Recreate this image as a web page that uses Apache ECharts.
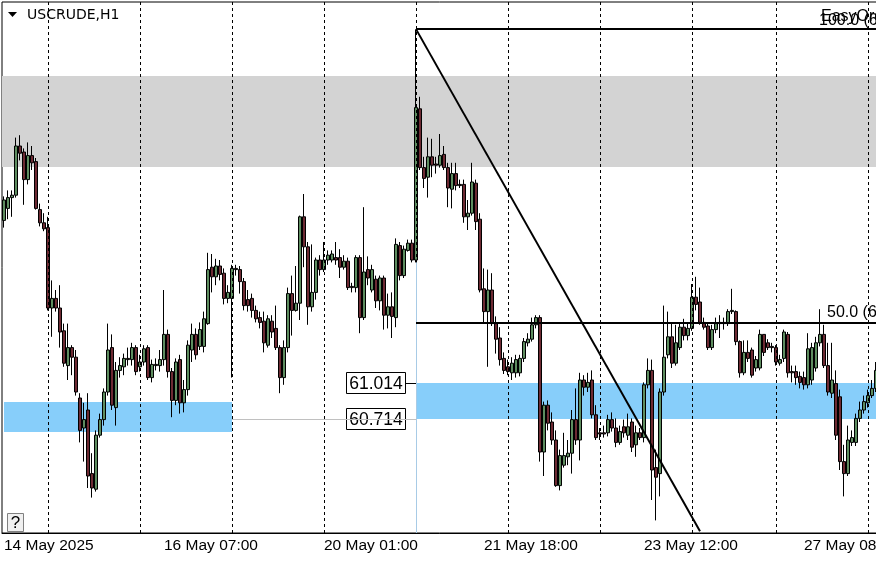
<!DOCTYPE html>
<html>
<head>
<meta charset="utf-8">
<script src="https://cdn.jsdelivr.net/npm/echarts@6/dist/echarts.min.js"></script>
<style>
html,body{margin:0;padding:0;background:#fff;}
#chart{width:876px;height:562px;}
</style>
</head>
<body>
<div id="chart"></div>
<script>
// ---- data (USCRUDE, H1) ----
const open = [62.37,62.47,62.56,62.58,62.99,62.94,62.71,62.91,62.86,62.46,
62.35,62.31,61.64,61.72,61.64,61.45,61.16,61.31,61.23,60.89,
60.64,60.79,60.26,60.13,60.58,60.71,60.94,61.31,60.81,61.12,
61.15,61.22,61.21,61.31,61.15,61.19,61.31,61.06,61.17,61.16,
61.21,61.42,61.11,60.87,61.21,60.85,60.96,61.29,61.42,61.32,
61.32,61.51,61.98,61.90,61.99,61.93,61.72,61.72,61.97,61.96,
61.86,61.71,61.72,61.62,61.56,61.53,61.33,61.53,61.47,61.31,
61.06,61.31,61.76,61.62,61.68,62.40,62.15,61.65,61.77,62.04,
61.96,62.04,62.04,62.06,62.06,61.98,62.03,61.82,61.81,62.06,
61.56,61.96,61.79,61.88,61.70,61.89,61.58,61.65,61.56,62.16,
61.91,62.12,62.18,62.04,63.30,62.81,62.73,62.90,62.84,62.83,
62.92,62.81,62.63,62.76,62.67,62.67,62.40,62.43,62.68,62.38,
61.80,61.61,61.79,61.51,61.39,61.22,61.15,61.10,61.10,61.10,
61.22,61.35,61.38,61.50,61.56,60.44,60.83,60.69,60.54,60.16,
60.33,60.40,60.43,60.71,60.54,61.04,60.98,61.04,60.75,60.60,
60.60,60.60,60.71,60.64,60.52,60.65,60.58,60.69,60.50,60.60,
60.56,61.00,61.12,60.31,60.26,60.94,61.25,61.40,61.18,61.31,
61.48,61.41,61.47,61.73,61.69,61.52,61.49,61.31,61.46,61.52,
61.52,61.51,61.61,61.61,61.36,61.10,61.27,61.29,61.14,61.14,
61.42,61.35,61.32,61.31,61.18,61.22,61.42,61.11,61.11,61.07,
61.06,61.00,61.04,61.14,61.35,61.42,61.16,60.93,61.01,60.90,
60.36,60.26,60.52,60.52,60.72,60.79,60.85,60.91,60.97];
const close = [62.54,62.56,62.58,62.99,62.93,62.71,62.91,62.85,62.47,62.35,
62.30,61.64,61.72,61.64,61.44,61.18,61.31,61.23,60.94,60.62,
60.71,60.24,60.14,60.58,60.71,60.94,61.29,60.83,61.12,61.16,
61.22,61.21,61.31,61.11,61.19,61.30,61.06,61.17,61.16,61.21,
61.42,61.11,60.87,61.19,60.85,60.96,61.33,61.42,61.25,61.46,
61.55,61.96,61.90,61.99,61.92,61.72,61.77,61.97,61.96,61.86,
61.66,61.66,61.62,61.55,61.52,61.35,61.55,61.44,61.31,61.06,
61.31,61.76,61.62,61.68,62.40,62.15,61.65,61.77,62.04,61.96,
62.04,62.08,62.09,62.04,61.98,62.03,61.81,61.81,62.06,61.56,
61.94,61.89,61.96,61.70,61.89,61.58,61.65,61.57,62.17,61.91,
62.13,62.18,62.04,63.31,62.81,62.72,62.90,62.83,62.83,62.91,
62.81,62.64,62.76,62.66,62.66,62.40,62.43,62.69,62.36,61.79,
61.61,61.79,61.51,61.38,61.21,61.12,61.11,61.18,61.21,61.22,
61.36,61.38,61.50,61.56,60.44,60.83,60.68,60.54,60.16,60.41,
60.41,60.43,60.71,60.54,61.04,60.98,61.02,60.75,60.56,60.59,
60.59,60.71,60.64,60.52,60.61,60.60,60.65,60.48,60.60,60.56,
61.00,61.12,60.29,60.23,60.94,61.23,61.40,61.18,61.35,61.48,
61.41,61.47,61.73,61.67,61.52,61.48,61.31,61.46,61.51,61.51,
61.51,61.61,61.62,61.36,61.10,61.27,61.22,61.08,61.21,61.42,
61.27,61.31,61.31,61.19,61.21,61.44,61.10,61.10,61.06,61.02,
61.00,61.30,61.31,61.35,61.42,61.16,60.94,61.04,60.58,60.36,
60.26,60.54,60.56,60.72,60.79,60.86,60.91,60.97,61.12];
const high = [62.57,62.62,62.62,63.06,63.08,62.97,63.02,62.99,62.89,62.51,
62.43,62.40,61.87,61.79,61.83,61.51,61.51,61.33,61.29,60.93,
60.85,60.93,60.43,60.62,60.76,60.97,61.51,61.42,61.19,61.23,
61.26,61.31,61.35,61.33,61.25,61.33,61.33,61.21,61.22,61.29,
61.79,61.46,61.14,61.22,61.25,61.04,61.37,61.51,61.47,61.52,
61.61,62.10,62.09,62.05,62.04,61.97,61.83,62.00,62.00,61.99,
61.89,61.79,61.76,61.66,61.61,61.61,61.58,61.58,61.66,61.33,
61.37,61.81,61.91,61.99,62.41,62.59,62.19,62.17,62.06,62.08,
62.19,62.12,62.12,62.19,62.13,62.08,62.06,61.85,62.08,62.08,
62.48,62.07,62.00,61.91,61.91,61.91,61.76,61.77,62.22,62.19,
62.16,62.21,62.21,63.96,63.40,62.90,63.06,63.05,62.90,63.09,
62.99,62.85,62.85,62.85,62.71,62.71,62.54,62.85,62.71,62.43,
61.97,61.96,61.93,61.57,61.48,61.27,61.21,61.23,61.25,61.25,
61.39,61.43,61.56,61.58,61.58,60.86,60.87,60.77,60.62,60.46,
60.60,60.54,60.79,60.97,61.10,61.08,61.10,61.12,60.83,60.64,
60.66,60.75,60.77,60.72,60.66,60.71,60.76,60.72,60.66,60.64,
61.02,61.22,61.21,60.46,60.97,61.66,61.61,61.51,61.50,61.52,
61.55,61.51,61.84,61.90,61.81,61.56,61.52,61.50,61.56,61.58,
61.56,61.63,61.80,61.62,61.37,61.37,61.37,61.31,61.24,61.46,
61.42,61.38,61.35,61.33,61.25,61.46,61.44,61.16,61.16,61.11,
61.11,61.43,61.35,61.40,61.63,61.50,61.35,61.35,61.12,60.96,
60.50,60.66,60.62,60.76,60.86,60.91,60.96,61.04,61.19];
const low = [62.31,62.38,62.40,62.56,62.87,62.50,62.67,62.79,62.46,62.32,
62.28,61.62,61.40,61.61,61.31,61.15,61.04,61.08,60.91,60.52,
60.36,60.14,60.06,60.11,60.56,60.66,60.91,60.79,60.66,61.06,
61.08,61.16,61.16,61.08,61.11,61.16,61.04,61.02,61.12,61.11,
61.16,61.06,60.73,60.83,60.76,60.77,60.91,61.19,61.21,61.29,
61.27,61.50,61.77,61.83,61.87,61.67,61.68,61.06,61.91,61.76,
61.62,61.61,61.56,61.52,61.47,61.27,61.31,61.39,61.29,60.93,
61.00,61.27,61.41,61.61,61.54,61.98,61.50,61.61,61.71,61.91,
61.94,62.00,62.02,62.00,61.89,61.96,61.79,61.77,61.77,61.43,
61.54,61.83,61.77,61.64,61.62,61.46,61.47,61.39,61.48,61.87,
61.89,62.11,62.02,62.02,62.79,62.64,62.56,62.73,62.76,62.81,
62.79,62.48,62.47,62.62,62.64,62.35,62.29,62.41,62.29,61.77,
61.52,61.15,61.49,61.26,61.16,61.09,61.08,61.04,61.06,61.07,
61.19,61.32,61.36,61.47,60.36,60.24,60.62,60.50,60.15,60.12,
60.31,60.33,60.26,60.50,60.37,60.91,60.94,60.72,60.54,60.54,
60.56,60.57,60.61,60.48,60.50,60.56,60.54,60.44,60.40,60.54,
60.52,60.97,60.04,59.87,60.07,60.91,61.22,61.14,61.16,61.29,
61.37,61.37,61.45,61.62,61.50,61.46,61.29,61.29,61.43,61.39,
61.46,61.49,61.59,61.33,61.06,61.08,61.19,61.06,61.11,61.12,
61.24,61.29,61.27,61.16,61.16,61.19,61.06,61.02,61.00,60.97,
60.96,60.97,61.00,61.11,61.32,61.14,60.91,60.89,60.54,60.29,
60.07,60.24,60.49,60.49,60.69,60.76,60.81,60.89,60.94];

const tickIndex = [0, 40, 80, 120, 160, 200];
const tickLabels = ['14 May 2025', '16 May 07:00', '20 May 01:00', '21 May 18:00', '23 May 12:00', '27 May 08:00'];
const daySeparators = [11, 34, 57, 80, 103, 126, 149, 172, 193, 216];

// fibonacci / objects (prices)
const fibStartIdx = 103, fibHigh = 63.964, fibMid = 61.52;
const trendEndIdx = 174, trendEndPrice = 59.78;
const supplyZone = [63.573, 62.814];
const demandZoneLeft = {from: 0, to: 57, top: 60.856, bottom: 60.606};
const demandZoneRight = {from: 103, top: 61.014, bottom: 60.714};
const priceLabels = [61.014, 60.714];

const categories = open.map((_, i) => 'bar' + i);
const lastIdx = open.length - 1;
const yMin = 59.765, yMax = 64.19;
const FONT = 'DejaVu Sans';
const FONT2 = 'Liberation Sans';

const chart = echarts.init(document.getElementById('chart'), null, {renderer: 'canvas'});
const tickFn = (idx) => tickIndex.indexOf(idx) >= 0;

chart.setOption({
  animation: false,
  backgroundColor: '#ffffff',
  grid: {left: 2, top: 2, width: 876, bottom: 29, show: true, borderColor: '#000', borderWidth: 1,
         backgroundColor: 'transparent', containLabel: false, outerBoundsMode: 'none'},
  xAxis: {
    type: 'category', data: categories, boundaryGap: true,
    axisLine: {lineStyle: {color: '#000', width: 1}},
    axisTick: {alignWithLabel: true, interval: tickFn, length: 4, lineStyle: {color: '#000'}},
    axisLabel: {
      interval: tickFn, align: 'left', margin: 5, color: '#000', fontFamily: FONT2, fontSize: 15.5,
      hideOverlap: false,
      formatter: (v, idx) => { const k = tickIndex.indexOf(idx); return k >= 0 ? tickLabels[k] : ''; }
    },
    splitLine: {show: false}
  },
  yAxis: {type: 'value', min: yMin, max: yMax, show: false, splitLine: {show: false}},
  series: [
    {
      type: 'line', data: [], z: 1, silent: true,
      markArea: {
        silent: true,
        data: [
          [{yAxis: supplyZone[0], itemStyle: {color: '#d3d3d3'}}, {yAxis: supplyZone[1]}],
          [{xAxis: demandZoneLeft.from, yAxis: demandZoneLeft.top, itemStyle: {color: '#87cefa'}}, {xAxis: demandZoneLeft.to, yAxis: demandZoneLeft.bottom}],
          [{xAxis: demandZoneRight.from, yAxis: demandZoneRight.top, itemStyle: {color: '#87cefa'}}, {xAxis: lastIdx, yAxis: demandZoneRight.bottom}]
        ]
      }
    },
    {
      type: 'line', data: [], z: 2, silent: true,
      markLine: {
        silent: true, symbol: ['none', 'none'], label: {show: false},
        data: [
          ...daySeparators.map(i => ({xAxis: i, lineStyle: {color: '#000', width: 1, type: [3, 3]}})),
          [{coord: [demandZoneLeft.to, priceLabels[1]], lineStyle: {color: '#c0c0c0', width: 1, type: 'solid'}}, {coord: [fibStartIdx, priceLabels[1]]}],
          [{coord: [fibStartIdx, yMin], lineStyle: {color: '#a8cbe6', width: 1, type: 'solid'}}, {coord: [fibStartIdx, low[fibStartIdx]]}]
        ]
      }
    },
    {
      type: 'candlestick', z: 3, barWidth: 3,
      data: open.map((o, i) => [o, close[i], low[i], high[i]]),
      itemStyle: {color: '#5e8d60', color0: '#6d2a33', borderColor: '#000', borderColor0: '#000', borderWidth: 1}
    },
    {
      type: 'line', data: [], z: 4, silent: true,
      markLine: {
        silent: true, symbol: ['none', 'none'], label: {show: false},
        data: [
          [{coord: [fibStartIdx, fibHigh], lineStyle: {color: '#000', width: 2, type: 'solid'}}, {coord: [lastIdx, fibHigh]}],
          [{coord: [fibStartIdx, fibMid], lineStyle: {color: '#000', width: 2, type: 'solid'}}, {coord: [lastIdx, fibMid]}],
          [{coord: [fibStartIdx, fibHigh], lineStyle: {color: '#000', width: 2, type: 'solid'}}, {coord: [trendEndIdx, trendEndPrice]}],
          [{coord: [fibStartIdx, fibHigh], lineStyle: {color: '#000', width: 1, type: 'solid'}}, {coord: [fibStartIdx, high[fibStartIdx] - 0.01]}]
        ]
      }
    }
  ]
});

// overlay texts positioned from the data scales
const toPx = (idx, price) => chart.convertToPixel({xAxisIndex: 0, yAxisIndex: 0}, [idx, price]);
const g = [];
g.push({type: 'polygon', shape: {points: [[8, 12], [17, 12], [12.5, 17]]}, style: {fill: '#000'}, silent: true});
g.push({type: 'text', left: 27, top: 8, style: {text: 'USCRUDE,H1', fontFamily: FONT, fontSize: 14, fill: '#000'}, silent: true});
priceLabels.forEach(p => {
  const [px, py] = toPx(fibStartIdx, p);
  g.push({type: 'line', shape: {x1: px - 10, y1: Math.round(py) + 0.5, x2: px, y2: Math.round(py) + 0.5}, style: {stroke: '#000', lineWidth: 1}, silent: true});
  g.push({type: 'rect', shape: {x: px - 69.5, y: Math.round(py) - 10.5, width: 59, height: 21}, style: {fill: '#fff', stroke: '#000', lineWidth: 1}, silent: true});
  g.push({type: 'text', x: px - 40, y: Math.round(py) + 1.5, style: {text: p.toFixed(3), fontFamily: FONT2, fontSize: 17.5, fill: '#000', align: 'center', verticalAlign: 'middle'}, silent: true});
});
const [fx1, fy1] = toPx(lastIdx, fibHigh);
const [fx2, fy2] = toPx(lastIdx, fibMid);
g.push({type: 'text', x: 821, y: fy1 - 21, style: {text: 'EasyOrders', fontFamily: FONT2, fontSize: 16, fill: '#000'}, silent: true});
g.push({type: 'text', x: 819, y: fy1 - 17, style: {text: '100.0 (' + fibHigh.toFixed(3) + ')', fontFamily: FONT2, fontSize: 16, fill: '#000'}, silent: true});
g.push({type: 'text', x: 827, y: fy2 - 18, style: {text: '50.0 (' + fibMid.toFixed(3) + ')', fontFamily: FONT2, fontSize: 16, fill: '#000'}, silent: true});
g.push({type: 'rect', shape: {x: 7.5, y: 513.5, width: 16, height: 18}, style: {fill: '#f0f0f0', stroke: '#808080', lineWidth: 1}, silent: true});
g.push({type: 'text', x: 15.5, y: 523, style: {text: '?', fontFamily: FONT2, fontSize: 17, fill: '#000', align: 'center', verticalAlign: 'middle'}, silent: true});
chart.setOption({graphic: g});
</script>
</body>
</html>
